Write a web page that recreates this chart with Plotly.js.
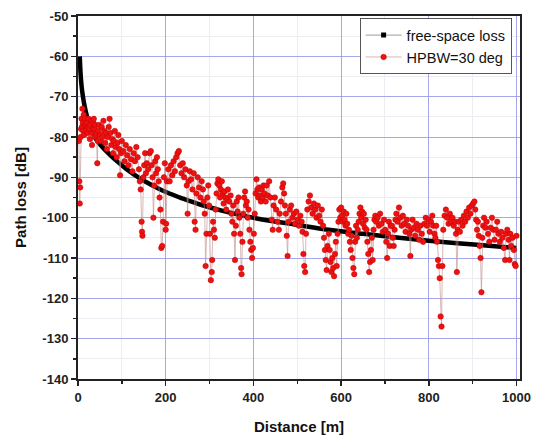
<!DOCTYPE html>
<html>
<head>
<meta charset="utf-8">
<script src="https://cdn.plot.ly/plotly-3.0.1.min.js"></script>
<style>html,body{margin:0;padding:0;background:#fff;}#chart{width:540px;height:440px;}</style>
</head>
<body>
<div id="chart"></div>
<script>
// Free-space loss curve
const fsDist = [4,5,6,8,10,12,15,20,27,35,41,50,60,73,90,110,142,170,202,240,280,330,408,500,571,650,715,800,858,930,1000];
const fsLoss = [-60,-62.5,-64.5,-67.2,-69,-70.5,-72.3,-74.7,-77.3,-79.3,-80.5,-81.8,-83,-84.4,-86.1,-87.9,-90.3,-92,-93.7,-95.3,-96.8,-98.3,-100.2,-101.8,-103,-104,-104.8,-105.7,-106.3,-106.9,-107.5];

const hpDist = [
2,3,4,5,6,7,8,9,10,11,12,13,14,15,16,18,19,20,22,23,24,26,27,28,30,31,32,34,35,36,38,39,40,42,44,45,46,48,50,
52,54,56,58,60,62,64,66,68,70,72,74,76,78,80,82,84,86,88,90,92,94,96,98,100,
103,106,109,112,115,118,121,124,127,130,133,136,139,141,143,145,146,147,149,151,153,155,157,
160,163,166,168,170,172,174,176,178,180,182,184,186,188,190,192,194,196,198,200,201,203,
206,209,212,215,218,221,224,227,230,233,236,239,242,245,248,250,252,255,258,261,264,266,268,270,273,276,279,282,
285,287,289,291,293,295,297,299,301,303,305,306,308,310,312,314,316,318,320,322,324,326,328,330,332,334,336,338,340,342,345,348,350,352,354,356,358,360,362,364,366,368,370,372,373,375,377,379,381,383,385,387,389,391,393,395,397,399,401,403,405,407,409,411,413,415,417,419,421,423,425,
428,430,433,436,439,442,444,446,449,452,455,458,460,463,466,468,470,472,474,476,478,480,483,486,489,492,495,498,501,504,507,510,512,514,516,518,520,523,526,529,532,535,538,541,544,547,550,553,556,559,561,563,565,567,569,
572,574,576,578,580,582,584,586,588,590,592,594,596,598,600,602,604,606,608,610,612,614,616,618,620,622,624,626,628,630,632,634,636,638,640,642,644,646,648,650,652,654,656,658,660,662,664,666,668,670,672,674,676,678,680,683,686,689,692,695,698,701,703,705,707,709,711,713,
716,718,720,722,724,726,729,732,735,738,741,744,747,750,753,756,758,760,763,766,769,772,775,778,781,784,787,790,793,796,799,802,805,808,810,813,815,817,819,821,823,825,827,829,831,833,836,839,842,845,848,851,854,857,
860,862,864,866,868,871,874,877,880,883,886,889,892,895,898,901,904,906,908,910,912,914,916,918,920,922,924,926,929,932,935,938,941,944,947,950,953,956,959,962,965,968,971,974,976,979,982,984,986,988,991,994,996,998,1000];
const hpLoss = [
-81,-91,-96.5,-92.5,-80,-78,-75.5,-77.5,-73,-76.5,-78.5,-74.5,-79.5,-77,-75.5,-78.5,-77,-76.5,-79,-77.5,-75.5,-78,-80.5,-77,-76,-79,-82,-78,-76.5,-75.5,-78,-80,-77,-79.5,-86.5,-81,-78.5,-77,-79.5,
-81,-77.5,-80,-76,-78.5,-81.5,-79,-83,-80,-77.5,-75.5,-79,-82,-80.5,-84,-81,-78.5,-82.5,-85,-81.5,-79.5,-83,-89.5,-84,-81,
-83.5,-86,-82,-84.5,-87,-83,-85.5,-88.5,-84,-86,-82.5,-85,-88,-91,-93,-101,-103.5,-104.5,-90,-87,-84,-89,-86.5,
-88,-84,-83.5,-87,-90,-100,-92,-86,-89,-85,-88,-91,-95,-98,-107.5,-107,-101,-90,-86.5,-103,-101.5,-91,
-88,-91,-87,-89.5,-86,-88.5,-85,-84,-83.5,-87,-89,-86.5,-90,-88,-92,-99,-91,-88.5,-90.5,-93,-89,-101,-103,-94,-90,-92.5,-95,-91,
-93,-96,-99,-112,-104,-95,-92,-97,-104,-115.5,-113.5,-110.5,-101,-103,-105,-98,-94,-91.5,-90.5,-92,-95,-93,-91,-94,-96.5,-93.5,-95,-98,-95.5,-93,-96,-94.5,-99,-101,-97,-104,-110.5,-102,-96,-98.5,-95,-100,-104,-112.5,-114,-106,-99,-95,-93.5,-97,-96,-100,-98,-103,-106,-108,-110,-107.5,-104,-99,-94,-90.5,-93,-95,-92.5,-94.5,-96,-93,-95,-92,-94,
-96,-92,-94.5,-91,-95,-100.5,-103,-97,-95,-98,-101,-103,-99,-96,-92.5,-91.5,-94,-97,-99,-104.5,-109.5,-101,-98,-97,-100,-99,-101.5,-98.5,-100.5,-102,-99.5,-101,-103.5,-109,-112,-113.5,-104,-98,-96,-94.5,-97.5,-99,-96.5,-98,-100,-97,-99.5,-101,-98,-102,-105,-108,-110.5,-113,-107,
-104,-108,-111,-113.5,-110,-112.5,-114.5,-109,-106,-112,-104,-101,-98,-100,-97.5,-99.5,-101,-98.5,-100.5,-102,-99,-101.5,-104,-103,-106,-108,-104.5,-110,-112.5,-114,-106,-102,-105,-103,-101,-99,-97.5,-100,-98.5,-101.5,-99,-102.5,-100.5,-103,-106,-109,-113.5,-111,-108,-105,-110.5,-103,-100.5,-99.5,-101,-100,-102,-99,-101.5,-103.5,-100.5,-103,-106,-110,-104,-101,-107,-102,
-102,-105,-107,-103,-100.5,-99,-101,-97.5,-100,-102,-99.5,-101.5,-103.5,-100.5,-102,-104,-109.5,-103,-100.5,-102.5,-104.5,-101.5,-103,-105.5,-102,-104,-106,-101.5,-100,-102,-100.5,-103.5,-101,-99.5,-102,-104,-105,-102,-106,-110.5,-112,-115,-124.5,-127,-112,-103,-99.5,-98,-100,-101.5,-99,-101,-100,-102,
-101,-104,-113.5,-103,-101,-103.5,-100.5,-102,-99.5,-101,-98.5,-100,-97.5,-99,-97,-96.5,-96,-98,-100.5,-103,-101,-104.5,-107,-110,-118.5,-105,-102,-100,-102.5,-101,-104,-106,-102.5,-100,-103,-105.5,-103,-101,-104,-106,-103.5,-105,-107.5,-110.5,-104,-103,-105.5,-110.5,-104,-107,-105,-108,-111.5,-112,-104.5];

const xTicks = [0,200,400,600,800,1000];
const yTicks = [-140,-130,-120,-110,-100,-90,-80,-70,-60,-50];
const legendNames = ['free-space loss','HPBW=30 deg'];

const traces = [
  {x:[null], y:[null], name:legendNames[0], mode:'lines+markers', showlegend:true,
   line:{color:'#9a9a9a', width:1}, marker:{symbol:'square', color:'#000', size:5}},
  {x:fsDist, y:fsLoss, mode:'lines', showlegend:false, line:{color:'#000', width:4.5, shape:'spline'}, hoverinfo:'skip'},
  {x:hpDist, y:hpLoss, name:legendNames[1], mode:'lines+markers',
   line:{color:'rgba(195,150,150,0.85)', width:0.8},
   marker:{symbol:'circle', color:'#ee1111', size:5.5, line:{color:'#c00000', width:0.5}}}
];

const gridBlue = 'rgba(150,150,235,0.8)';
const minorGrid = '#ececf2';
const tickFont = {family:'"Liberation Sans", Arial, sans-serif', size:13, color:'#222', weight:'bold'};

const layout = {
  width:540, height:440,
  margin:{l:78, r:20, t:16, b:61},
  paper_bgcolor:'#fff', plot_bgcolor:'#fff',
  showlegend:true,
  legend:{x:0.981, y:0.994, xanchor:'right', yanchor:'top', bgcolor:'#fff', bordercolor:'#555', borderwidth:1,
    font:{family:'"Liberation Sans", Arial, sans-serif', size:14.5, color:'#111'}, tracegroupgap:0, itemwidth:36},
  xaxis:{range:[0,1008], tickvals:xTicks, ticktext:xTicks.map(String), ticks:'outside', ticklen:5, tickwidth:1.5, tickcolor:'#222',
    showline:true, linecolor:'#222', linewidth:2, mirror:true, zeroline:false,
    showgrid:true, gridcolor:gridBlue, gridwidth:1,
    minor:{dtick:100, tick0:0, ticks:'outside', ticklen:3, tickcolor:'#222', showgrid:true, gridcolor:minorGrid, gridwidth:1},
    tickfont:tickFont,
    title:{text:'Distance [m]', font:{family:'"Liberation Sans", Arial, sans-serif', size:15, color:'#111', weight:'bold'}, standoff:18}},
  yaxis:{range:[-140,-50], tickvals:yTicks, ticktext:yTicks.map(String), ticks:'outside', ticklen:5, tickwidth:1.5, tickcolor:'#222',
    showline:true, linecolor:'#222', linewidth:2, mirror:true, zeroline:false,
    showgrid:true, gridcolor:gridBlue, gridwidth:1,
    minor:{dtick:5, tick0:-50, ticks:'outside', ticklen:3, tickcolor:'#222', showgrid:true, gridcolor:minorGrid, gridwidth:1},
    tickfont:tickFont,
    title:{text:'Path loss [dB]', font:{family:'"Liberation Sans", Arial, sans-serif', size:15, color:'#111', weight:'bold'}, standoff:12}}
};

Plotly.newPlot('chart', traces, layout, {displayModeBar:false, staticPlot:true});
</script>
</body>
</html>
